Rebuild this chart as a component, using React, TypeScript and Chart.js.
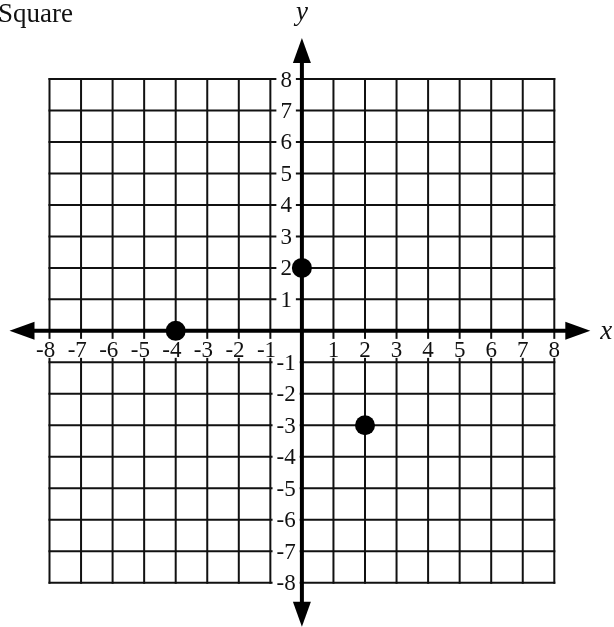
import React, { useEffect, useRef } from "react";
import { Chart, registerables } from "chart.js";

Chart.register(...registerables);

// ---- data ----
const pointX = [0, -4, 2];
const pointY = [2, 0, -3];
const xTicks = [-8, -7, -6, -5, -4, -3, -2, -1, 1, 2, 3, 4, 5, 6, 7, 8];
const yTicks = [8, 7, 6, 5, 4, 3, 2, 1, -1, -2, -3, -4, -5, -6, -7, -8];
const gridValues = [-8, -7, -6, -5, -4, -3, -2, -1, 1, 2, 3, 4, 5, 6, 7, 8];
const titleText = "Square";
const xName = "x";
const yName = "y";

const SERIF = "'Liberation Serif', 'Times New Roman', serif";

const coordPlugin = {
  id: "coordGrid",
  beforeDatasetsDraw(chart: any) {
    const { ctx } = chart;
    const xs = chart.scales.x;
    const ys = chart.scales.y;
    const X = (v: number) => xs.getPixelForValue(v);
    const Y = (v: number) => ys.getPixelForValue(v);
    ctx.save();

    // grid
    ctx.strokeStyle = "#111";
    ctx.lineWidth = 2;
    ctx.lineCap = "butt";
    for (const v of gridValues) {
      ctx.beginPath();
      ctx.moveTo(X(v), Y(8) - 1);
      ctx.lineTo(X(v), Y(-8) + 1);
      ctx.stroke();
      ctx.beginPath();
      ctx.moveTo(X(-8) - 1, Y(v));
      ctx.lineTo(X(8) + 1, Y(v));
      ctx.stroke();
    }

    // tick labels
    ctx.font = `23px ${SERIF}`;
    ctx.textBaseline = "alphabetic";
    ctx.textAlign = "left";
    for (const v of xTicks) {
      const digits = String(Math.abs(v));
      const text = v < 0 ? "-" + digits : digits;
      const dw = ctx.measureText(digits).width;
      const tw = ctx.measureText(text).width;
      const right = X(v) + dw / 2;
      const left = right - tw;
      const base = Y(0) + 26;
      ctx.fillStyle = "#fff";
      ctx.fillRect(left - 2, base - 18, tw + 4, 19);
      ctx.fillStyle = "#111";
      ctx.fillText(text, left, base);
    }
    for (const v of yTicks) {
      const text = String(v);
      const tw = ctx.measureText(text).width;
      const cx = X(-0.5);
      const l = Math.max(cx - tw / 2 - 4, X(-1) + 1.5);
      const r = Math.min(cx + tw / 2 + 4, X(0) - 1);
      ctx.fillStyle = "#fff";
      ctx.fillRect(l, Y(v) - 4, r - l, 8);
      ctx.fillStyle = "#111";
      ctx.fillText(text, cx - tw / 2, Y(v) + 7.5);
    }

    // axes with arrows
    ctx.fillStyle = "#000";
    ctx.strokeStyle = "#000";
    ctx.lineWidth = 4;
    const y0 = Y(0);
    const x0 = X(0);
    const lTip = X(-8) - 40;
    const rTip = X(8) + 36;
    const tTip = Y(8) - 41;
    const bTip = Y(-8) + 44;
    const L = 25;
    const H = 9;
    ctx.beginPath();
    ctx.moveTo(lTip + L - 2, y0);
    ctx.lineTo(rTip - L + 2, y0);
    ctx.stroke();
    ctx.beginPath();
    ctx.moveTo(x0, tTip + L - 2);
    ctx.lineTo(x0, bTip - L + 2);
    ctx.stroke();
    // arrowheads
    ctx.beginPath();
    ctx.moveTo(lTip, y0);
    ctx.lineTo(lTip + L, y0 - H);
    ctx.lineTo(lTip + L, y0 + H);
    ctx.closePath();
    ctx.fill();
    ctx.beginPath();
    ctx.moveTo(rTip, y0);
    ctx.lineTo(rTip - L, y0 - H);
    ctx.lineTo(rTip - L, y0 + H);
    ctx.closePath();
    ctx.fill();
    ctx.beginPath();
    ctx.moveTo(x0, tTip);
    ctx.lineTo(x0 - H, tTip + L);
    ctx.lineTo(x0 + H, tTip + L);
    ctx.closePath();
    ctx.fill();
    ctx.beginPath();
    ctx.moveTo(x0, bTip);
    ctx.lineTo(x0 - H, bTip - L);
    ctx.lineTo(x0 + H, bTip - L);
    ctx.closePath();
    ctx.fill();

    // axis names
    ctx.fillStyle = "#111";
    ctx.font = `italic 27px ${SERIF}`;
    ctx.textAlign = "center";
    ctx.fillText(yName, x0, 20);
    ctx.textAlign = "left";
    ctx.fillText(xName, rTip + 10, y0 + 8);

    // title
    ctx.font = `27px ${SERIF}`;
    ctx.textAlign = "left";
    ctx.fillText(titleText, -2, 22);

    ctx.restore();
  },
};

export default function App() {
  const ref = useRef<HTMLCanvasElement | null>(null);
  useEffect(() => {
    if (!ref.current) return;
    const chart = new Chart(ref.current, {
      type: "scatter",
      data: {
        datasets: [
          {
            data: pointX.map((x, i) => ({ x, y: pointY[i] })),
            pointRadius: 10,
            pointHoverRadius: 10,
            backgroundColor: "#000",
            borderColor: "#000",
            borderWidth: 0,
            clip: false as any,
          },
        ],
      },
      options: {
        animation: false,
        responsive: false,
        events: [],
        layout: { padding: { left: 49.5, right: 59.7, top: 79, bottom: 44.3 } },
        scales: {
          x: { type: "linear", min: -8, max: 8, display: false },
          y: { type: "linear", min: -8, max: 8, display: false },
        },
        plugins: { legend: { display: false }, tooltip: { enabled: false }, title: { display: false } },
      },
      plugins: [coordPlugin],
    });
    return () => chart.destroy();
  }, []);
  return (
    <div style={{ position: "fixed", left: 0, top: 0, width: 614, height: 627, background: "#fff" }}>
      <canvas ref={ref} width={614} height={627} style={{ display: "block" }} />
    </div>
  );
}
